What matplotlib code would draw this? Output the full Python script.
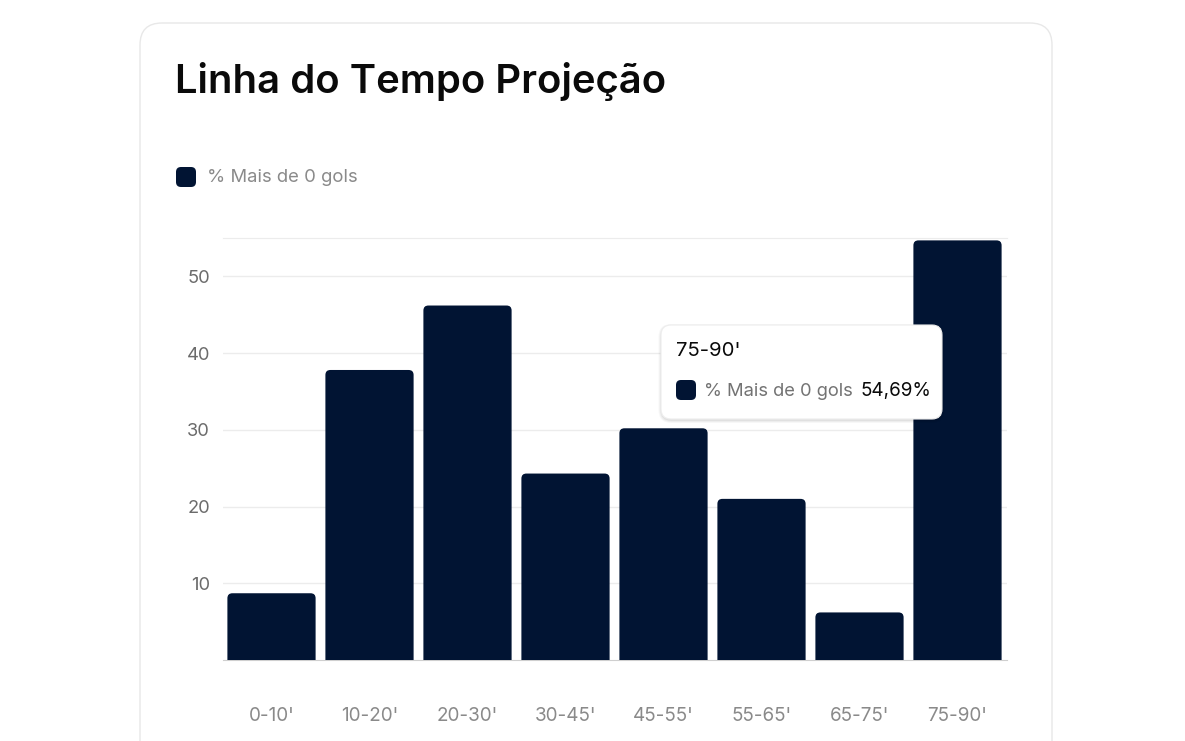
import matplotlib.pyplot as plt
from matplotlib.patches import FancyBboxPatch

categories = ["0-10'", "10-20'", "20-30'", "30-45'", "45-55'", "55-65'", "65-75'", "75-90'"]
pct_over_0 = [8.7, 37.8, 46.2, 24.3, 30.2, 21.0, 6.2, 54.69]
series_name = "% Mais de 0 gols"
title = "Linha do Tempo Projeção"
y_ticks = [10, 20, 30, 40, 50]
hover_idx = 7

W, H = 1185, 741
NAVY = '#011433'
plt.rcParams['font.family'] = ['Inter', 'DejaVu Sans']

fig = plt.figure(figsize=(W / 100, H / 100), dpi=100)
fig.patch.set_facecolor('white')

# background layer in pixel coordinates (card, title, legend)
bg = fig.add_axes([0, 0, 1, 1])
bg.set_xlim(0, W)
bg.set_ylim(H, 0)
bg.axis('off')
bg.add_patch(FancyBboxPatch((140, 23), 912, 760, boxstyle='round,pad=0,rounding_size=22',
                            fc='white', ec='#e8e8e8', lw=1.0))
bg.text(175, 93, title, fontsize=28.8, fontweight='semibold', color='#0a0a0a', va='baseline')
bg.add_patch(FancyBboxPatch((176, 167), 20, 20, boxstyle='round,pad=0,rounding_size=5',
                            fc=NAVY, ec='none'))
bg.text(207, 177, series_name, fontsize=13.3, color='#8a8a8a', va='center')

# chart
x0, x1, yb, yt = 222.5, 1006.5, 660, 238
ax = fig.add_axes([x0 / W, (H - yb) / H, (x1 - x0) / W, (yb - yt) / H])
ax.patch.set_alpha(0)
ymax = 55
ax.set_xlim(-0.5, len(categories) - 0.5)
ax.set_ylim(0, ymax)

bw = 0.9
px_x = (x1 - x0) / len(categories)  # px per x unit
px_y = (yb - yt) / ymax             # px per y unit
r = 5
below = 2.0  # bar starts below the axis so its lower rounding is clipped away
for i, v in enumerate(pct_over_0):
    ax.add_patch(FancyBboxPatch((i - bw / 2, -below), bw, v + below,
                                boxstyle=f'round,pad=0,rounding_size={r / px_x}',
                                mutation_aspect=px_x / px_y, fc=NAVY, ec='none', zorder=3))

ax.set_yticks(y_ticks)
ax.set_xticks(range(len(categories)))
ax.set_xticklabels(categories)
ax.grid(axis='y', color='#ececec', lw=1, zorder=0)
ax.tick_params(axis='y', length=0, pad=9, labelsize=13.2, labelcolor='#6b6b6b')
ax.tick_params(axis='x', length=0, pad=34, labelsize=13.6, labelcolor='#8a8a8a')
for s in ['left', 'right']:
    ax.spines[s].set_visible(False)
ax.spines['top'].set_color('#ececec')
ax.spines['bottom'].set_color('#cfcfcf')

# tooltip overlay
top = fig.add_axes([0, 0, 1, 1])
top.set_xlim(0, W)
top.set_ylim(H, 0)
top.axis('off')
tx, ty, tw, th = 661, 325, 281, 94
for k, a in enumerate([0.05, 0.04, 0.03]):
    d = k + 1
    top.add_patch(FancyBboxPatch((tx - d + 0.5, ty - d + 2), tw + 2 * d - 1, th + 2 * d - 1,
                                 boxstyle=f'round,pad=0,rounding_size={10 + d}',
                                 fc='black', ec='none', alpha=a))
top.add_patch(FancyBboxPatch((tx, ty), tw, th, boxstyle='round,pad=0,rounding_size=10',
                             fc='white', ec='#ededed', lw=0.8))
top.text(676, 351, categories[hover_idx], fontsize=14.6, color='#0a0a0a', va='center')
top.add_patch(FancyBboxPatch((676, 380), 20, 20, boxstyle='round,pad=0,rounding_size=5',
                             fc=NAVY, ec='none'))
top.text(704, 391, series_name, fontsize=13.2, color='#737373', va='center')
top.text(861, 391, f"{pct_over_0[hover_idx]:.2f}%".replace('.', ','), fontsize=13.6,
         color='#0a0a0a', va='center')

fig.savefig('out.png', dpi=100)
